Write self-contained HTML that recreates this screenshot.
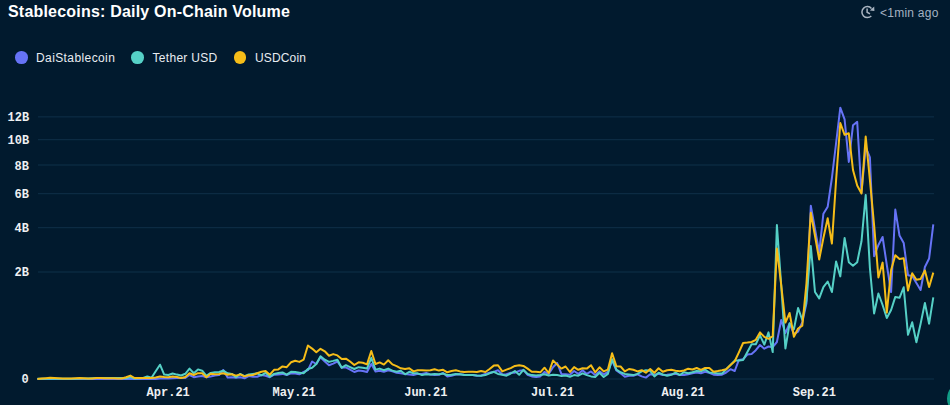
<!DOCTYPE html>
<html><head><meta charset="utf-8">
<style>
html,body{margin:0;padding:0;}
body{width:950px;height:405px;background:#011a2e;position:relative;overflow:hidden;font-family:"Liberation Sans",sans-serif;}
.t{position:absolute;white-space:nowrap;}
#title{left:8px;top:3px;font-size:16px;font-weight:bold;color:#fff;letter-spacing:0.2px;}
.lg{font-size:12px;color:#e8ecf1;top:51px;letter-spacing:0.4px;}
.dot{position:absolute;width:12.6px;height:12.6px;border-radius:50%;top:51.2px;}
.ax{font-family:"Liberation Mono",monospace;font-weight:bold;font-size:12px;color:#eef0f2;}
#ago{left:880px;top:6px;font-size:12px;color:#a5b2c1;letter-spacing:0.25px;}
</style></head><body>
<div id="title" class="t">Stablecoins: Daily On-Chain Volume</div>
<div class="t" id="ago">&lt;1min ago</div>
<div class="dot" style="left:15.2px;background:#6673f6"></div>
<div class="t lg" style="left:36px">DaiStablecoin</div>
<div class="dot" style="left:131.4px;background:#56d1c7"></div>
<div class="t lg" style="left:152.5px;letter-spacing:0.3px">Tether USD</div>
<div class="dot" style="left:233.9px;background:#f6bd18"></div>
<div class="t lg" style="left:255px;letter-spacing:0.15px">USDCoin</div>
<svg width="950" height="405" style="position:absolute;left:0;top:0">
<g stroke="#0f3049" stroke-width="1">
<line x1="38" x2="934" y1="116.9" y2="116.9"/>
<line x1="38" x2="934" y1="139.7" y2="139.7"/>
<line x1="38" x2="934" y1="165" y2="165"/>
<line x1="38" x2="934" y1="193.7" y2="193.7"/>
<line x1="38" x2="934" y1="227.7" y2="227.7"/>
<line x1="38" x2="934" y1="272" y2="272"/>
<line x1="38" x2="934" y1="379" y2="379"/>
</g>
<!--CHART-->
<g fill="none" stroke-width="2" stroke-linejoin="round" stroke-linecap="butt">
<path stroke="#6673f6" d="M37.4 379.1 L41.6 379.1 L45.9 379.1 L50.1 379.1 L54.3 379.1 L58.5 379.1 L62.8 379.1 L67.0 379.1 L71.2 379.1 L75.4 379.1 L79.7 379.1 L83.9 379.1 L88.1 379.1 L92.3 379.1 L96.6 379.1 L100.8 379.1 L105.0 379.1 L109.2 379.1 L113.5 379.1 L117.7 379.1 L121.9 379.1 L126.1 379.1 L130.4 379.1 L134.6 379.1 L138.8 379.1 L143.1 379.0 L147.3 379.0 L151.5 379.0 L155.7 379.0 L160.0 378.5 L164.2 378.5 L168.4 378.4 L172.6 378.2 L176.9 378.1 L181.1 378.0 L185.3 378.0 L189.5 375.0 L193.8 377.2 L198.0 376.4 L202.2 376.0 L206.4 377.2 L210.7 376.4 L214.9 375.5 L219.1 375.0 L223.3 370.0 L227.6 377.5 L231.8 377.2 L236.0 377.8 L240.2 377.2 L244.5 378.3 L248.7 376.1 L252.9 376.7 L257.2 376.7 L261.4 375.0 L265.6 375.8 L269.8 377.2 L274.1 374.7 L278.3 374.4 L282.5 373.9 L286.7 375.0 L291.0 373.4 L295.2 373.5 L299.4 374.3 L303.6 372.0 L307.9 370.2 L312.1 361.5 L316.3 364.0 L320.5 357.2 L324.8 361.5 L329.0 365.2 L333.2 363.6 L337.4 361.5 L341.7 367.7 L345.9 367.3 L350.1 369.6 L354.3 372.0 L358.6 370.5 L362.8 371.0 L367.0 372.0 L371.3 364.0 L375.5 371.4 L379.7 370.8 L383.9 371.8 L388.2 370.2 L392.4 371.4 L396.6 372.7 L400.8 373.3 L405.1 373.9 L409.3 374.5 L413.5 375.1 L417.7 373.9 L422.0 373.9 L426.2 373.0 L430.4 374.5 L434.6 375.1 L438.9 374.8 L443.1 373.0 L447.3 376.4 L451.5 375.7 L455.8 374.5 L460.0 374.3 L464.2 374.8 L468.5 375.1 L472.7 375.1 L476.9 375.7 L481.1 375.5 L485.4 374.0 L489.6 372.7 L493.8 372.0 L498.0 370.2 L502.3 374.5 L506.5 374.3 L510.7 372.7 L514.9 372.7 L519.2 370.8 L523.4 370.2 L527.6 374.8 L531.8 376.4 L536.1 377.0 L540.3 376.4 L544.5 372.0 L548.7 373.9 L553.0 367.3 L557.2 363.0 L561.4 373.9 L565.6 374.3 L569.9 374.8 L574.1 371.0 L578.3 373.9 L582.6 370.2 L586.8 373.9 L591.0 371.4 L595.2 375.1 L599.5 371.4 L603.7 374.3 L607.9 372.0 L612.1 360.3 L616.4 370.5 L620.6 373.3 L624.8 376.7 L629.0 375.7 L633.3 375.7 L637.5 374.3 L641.7 376.4 L645.9 377.6 L650.2 374.3 L654.4 374.5 L658.6 373.9 L662.8 375.1 L667.1 374.8 L671.3 374.3 L675.5 373.9 L679.8 375.1 L684.0 375.1 L688.2 374.2 L692.4 373.2 L696.7 372.5 L700.9 373.2 L705.1 371.7 L709.3 372.8 L713.6 374.7 L717.8 375.1 L722.0 374.7 L726.2 372.5 L730.5 369.2 L734.7 371.0 L738.9 359.9 L743.1 359.3 L747.4 354.6 L751.6 353.9 L755.8 350.2 L760.0 345.0 L764.3 348.7 L768.5 346.5 L772.7 347.2 L776.9 342.0 L781.2 320.0 L785.4 333.0 L789.6 323.5 L793.9 334.0 L798.1 331.7 L802.3 322.2 L806.5 303.0 L810.8 205.7 L815.0 229.0 L819.2 252.5 L823.4 213.7 L827.7 206.7 L831.9 178.0 L836.1 143.0 L840.3 107.7 L844.6 119.3 L848.8 161.9 L853.0 125.2 L857.2 121.9 L861.5 192.6 L865.7 147.2 L869.9 157.4 L874.1 256.2 L878.4 245.0 L882.6 237.0 L886.8 265.0 L891.1 292.0 L895.3 209.6 L899.5 235.5 L903.7 243.0 L908.0 275.2 L912.2 276.0 L916.4 283.0 L920.6 290.0 L924.9 267.0 L929.1 258.5 L933.3 224.3"/>
<path stroke="#55d0c6" d="M37.4 378.8 L41.6 378.8 L45.9 378.8 L50.1 378.8 L54.3 378.7 L58.5 378.7 L62.8 378.7 L67.0 378.7 L71.2 378.7 L75.4 378.7 L79.7 378.6 L83.9 378.6 L88.1 378.6 L92.3 378.3 L96.6 378.0 L100.8 378.0 L105.0 378.0 L109.2 378.0 L113.5 378.0 L117.7 378.0 L121.9 378.0 L126.1 378.3 L130.4 377.0 L134.6 378.6 L138.8 378.3 L143.1 378.0 L147.3 376.4 L151.5 377.8 L155.7 371.2 L160.0 364.7 L164.2 374.6 L168.4 375.0 L172.6 373.5 L176.9 374.6 L181.1 375.5 L185.3 373.8 L189.5 368.6 L193.8 373.2 L198.0 369.4 L202.2 370.7 L206.4 375.9 L210.7 372.9 L214.9 372.3 L219.1 372.0 L223.3 370.7 L227.6 373.3 L231.8 373.9 L236.0 377.2 L240.2 373.9 L244.5 376.1 L248.7 374.4 L252.9 373.9 L257.2 373.3 L261.4 375.3 L265.6 372.8 L269.8 376.7 L274.1 373.9 L278.3 373.1 L282.5 372.4 L286.7 374.7 L291.0 371.8 L295.2 372.1 L299.4 372.7 L303.6 373.3 L307.9 369.0 L312.1 367.7 L316.3 364.0 L320.5 356.2 L324.8 359.7 L329.0 361.9 L333.2 360.9 L337.4 359.7 L341.7 367.7 L345.9 365.2 L350.1 367.1 L354.3 369.0 L358.6 367.2 L362.8 367.7 L367.0 368.6 L371.3 357.8 L375.5 369.6 L379.7 368.6 L383.9 370.2 L388.2 368.6 L392.4 370.6 L396.6 371.8 L400.8 370.8 L405.1 374.3 L409.3 371.8 L413.5 373.3 L417.7 373.3 L422.0 375.1 L426.2 374.3 L430.4 374.5 L434.6 373.9 L438.9 374.3 L443.1 373.5 L447.3 375.1 L451.5 374.8 L455.8 373.9 L460.0 374.3 L464.2 375.1 L468.5 375.1 L472.7 375.1 L476.9 375.5 L481.1 375.7 L485.4 375.1 L489.6 373.3 L493.8 371.8 L498.0 373.9 L502.3 374.8 L506.5 375.7 L510.7 373.5 L514.9 371.0 L519.2 374.8 L523.4 369.8 L527.6 373.9 L531.8 375.1 L536.1 375.5 L540.3 375.1 L544.5 374.3 L548.7 375.5 L553.0 374.8 L557.2 375.1 L561.4 376.0 L565.6 375.5 L569.9 376.7 L574.1 375.1 L578.3 375.7 L582.6 373.3 L586.8 375.1 L591.0 376.4 L595.2 377.0 L599.5 372.7 L603.7 377.0 L607.9 373.9 L612.1 359.1 L616.4 369.7 L620.6 372.3 L624.8 373.9 L629.0 374.5 L633.3 375.1 L637.5 373.9 L641.7 371.4 L645.9 370.2 L650.2 370.8 L654.4 376.4 L658.6 372.7 L662.8 374.5 L667.1 375.7 L671.3 374.8 L675.5 372.7 L679.8 375.0 L684.0 372.2 L688.2 373.2 L692.4 372.2 L696.7 371.0 L700.9 371.3 L705.1 369.5 L709.3 372.5 L713.6 372.8 L717.8 373.6 L722.0 373.6 L726.2 369.2 L730.5 365.0 L734.7 360.6 L738.9 360.6 L743.1 360.0 L747.4 352.0 L751.6 344.3 L755.8 344.3 L760.0 335.4 L764.3 344.7 L768.5 332.4 L772.7 352.1 L776.9 225.0 L781.2 285.0 L785.4 348.5 L789.6 323.3 L793.9 329.3 L798.1 308.0 L802.3 320.0 L806.5 300.0 L810.8 246.0 L815.0 292.0 L819.2 298.4 L823.4 287.2 L827.7 281.5 L831.9 292.0 L836.1 261.5 L840.3 276.4 L844.6 238.0 L848.8 262.2 L853.0 265.8 L857.2 262.2 L861.5 241.3 L865.7 195.0 L869.9 268.0 L874.1 313.5 L878.4 293.5 L882.6 305.0 L886.8 318.0 L891.1 310.0 L895.3 296.9 L899.5 297.8 L903.7 287.3 L908.0 334.8 L912.2 322.2 L916.4 342.2 L920.6 323.7 L924.9 303.0 L929.1 323.7 L933.3 297.4"/>
<path stroke="#f6bd18" d="M37.4 379.0 L41.6 378.6 L45.9 378.2 L50.1 377.8 L54.3 378.0 L58.5 378.2 L62.8 378.4 L67.0 378.6 L71.2 378.4 L75.4 378.2 L79.7 378.0 L83.9 378.2 L88.1 378.4 L92.3 378.6 L96.6 378.0 L100.8 378.1 L105.0 378.2 L109.2 378.2 L113.5 378.3 L117.7 378.4 L121.9 378.5 L126.1 377.2 L130.4 375.6 L134.6 378.0 L138.8 378.0 L143.1 378.0 L147.3 378.0 L151.5 378.0 L155.7 377.5 L160.0 376.6 L164.2 377.0 L168.4 377.2 L172.6 376.5 L176.9 377.0 L181.1 378.0 L185.3 377.0 L189.5 373.3 L193.8 375.0 L198.0 373.2 L202.2 373.3 L206.4 377.2 L210.7 373.8 L214.9 374.2 L219.1 374.0 L223.3 373.2 L227.6 374.7 L231.8 374.2 L236.0 375.6 L240.2 374.4 L244.5 376.4 L248.7 375.3 L252.9 375.0 L257.2 373.3 L261.4 371.7 L265.6 370.9 L269.8 374.7 L274.1 369.8 L278.3 369.4 L282.5 366.4 L286.7 367.2 L291.0 362.3 L295.2 360.8 L299.4 361.9 L303.6 359.7 L307.9 345.5 L312.1 348.6 L316.3 352.3 L320.5 348.8 L324.8 351.3 L329.0 355.7 L333.2 354.1 L337.4 355.4 L341.7 359.1 L345.9 358.7 L350.1 361.5 L354.3 365.0 L358.6 362.3 L362.8 362.8 L367.0 364.4 L371.3 351.0 L375.5 364.0 L379.7 362.4 L383.9 364.6 L388.2 360.3 L392.4 364.4 L396.6 366.1 L400.8 368.3 L405.1 369.0 L409.3 368.3 L413.5 371.4 L417.7 370.2 L422.0 370.2 L426.2 370.6 L430.4 370.2 L434.6 369.3 L438.9 370.6 L443.1 369.8 L447.3 372.3 L451.5 371.0 L455.8 370.2 L460.0 371.4 L464.2 372.0 L468.5 371.8 L472.7 371.8 L476.9 372.0 L481.1 371.0 L485.4 372.0 L489.6 369.0 L493.8 365.6 L498.0 365.2 L502.3 371.4 L506.5 369.6 L510.7 368.1 L514.9 365.9 L519.2 365.2 L523.4 365.9 L527.6 368.6 L531.8 371.8 L536.1 371.8 L540.3 372.3 L544.5 367.7 L548.7 373.0 L553.0 360.5 L557.2 364.6 L561.4 368.6 L565.6 366.5 L569.9 372.0 L574.1 367.1 L578.3 369.8 L582.6 368.3 L586.8 368.6 L591.0 365.2 L595.2 372.3 L599.5 367.3 L603.7 371.4 L607.9 369.6 L612.1 353.3 L616.4 366.3 L620.6 366.5 L624.8 371.4 L629.0 369.0 L633.3 369.8 L637.5 371.4 L641.7 370.2 L645.9 372.7 L650.2 369.0 L654.4 372.7 L658.6 368.3 L662.8 371.8 L667.1 370.2 L671.3 369.8 L675.5 370.8 L679.8 371.2 L684.0 370.5 L688.2 368.7 L692.4 369.5 L696.7 368.0 L700.9 369.8 L705.1 368.0 L709.3 368.0 L713.6 371.7 L717.8 371.0 L722.0 370.2 L726.2 369.2 L730.5 365.0 L734.7 361.3 L738.9 352.4 L743.1 343.0 L747.4 342.6 L751.6 342.0 L755.8 339.8 L760.0 332.4 L764.3 336.9 L768.5 338.8 L772.7 336.1 L776.9 248.5 L781.2 285.0 L785.4 322.6 L789.6 313.0 L793.9 336.7 L798.1 328.5 L802.3 325.6 L806.5 283.0 L810.8 212.8 L815.0 236.0 L819.2 259.5 L823.4 238.0 L827.7 218.3 L831.9 243.5 L836.1 180.0 L840.3 123.0 L844.6 134.8 L848.8 133.3 L853.0 170.0 L857.2 185.5 L861.5 193.5 L865.7 136.6 L869.9 180.0 L874.1 225.0 L878.4 277.4 L882.6 262.6 L886.8 312.6 L891.1 270.0 L895.3 255.2 L899.5 258.9 L903.7 258.3 L908.0 290.5 L912.2 273.2 L916.4 279.8 L920.6 279.0 L924.9 270.5 L929.1 287.0 L933.3 272.6"/>
</g>
<!--/CHART-->
<!-- clock icon -->
<g fill="none" stroke="#a9b4c1" stroke-width="1.5">
<path d="M871.3 16 A5.5 5.5 0 1 1 871.5 8.4"/>
<path d="M867.1 8.5 V12.2 L870 13.9"/>
</g>
<path d="M869.9 10.6 L874.2 6.6 L874.4 10.9 Z" fill="#a9b4c1"/>
</svg>
<div class="t ax" style="left:7.5px;top:111px">12B</div>
<div class="t ax" style="left:7.5px;top:134px">10B</div>
<div class="t ax" style="left:14.5px;top:160px">8B</div>
<div class="t ax" style="left:14.5px;top:188px">6B</div>
<div class="t ax" style="left:14.5px;top:222px">4B</div>
<div class="t ax" style="left:14.5px;top:266px">2B</div>
<div class="t ax" style="left:21.5px;top:373px">0</div>
<div class="t ax" style="left:146.6px;top:386px">Apr.21</div>
<div class="t ax" style="left:272.6px;top:386px">May.21</div>
<div class="t ax" style="left:404.2px;top:386px">Jun.21</div>
<div class="t ax" style="left:531px;top:386px">Jul.21</div>
<div class="t ax" style="left:661.6px;top:386px">Aug.21</div>
<div class="t ax" style="left:792.7px;top:386px">Sep.21</div>
<div style="position:absolute;left:947.4px;top:381.8px;width:33.4px;height:33.4px;border-radius:50%;background:#119c86"></div>
</body></html>
